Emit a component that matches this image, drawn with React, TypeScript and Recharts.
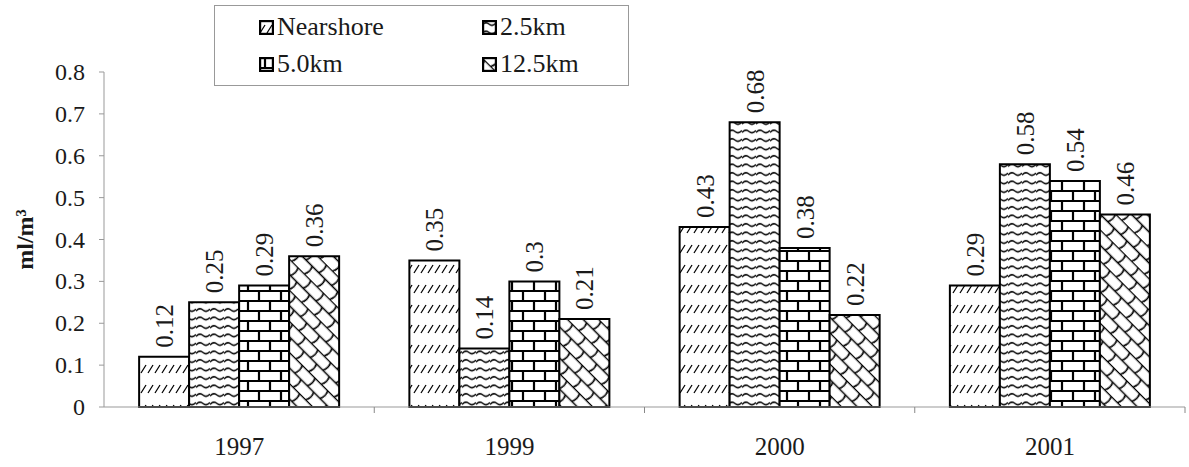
import { BarChart, Bar, XAxis, YAxis, LabelList, Label, Legend } from 'recharts'

const years = ['1997', '1999', '2000', '2001']
const nearshore = [0.12, 0.35, 0.43, 0.29]
const km25 = [0.25, 0.14, 0.68, 0.58]
const km50 = [0.29, 0.3, 0.38, 0.54]
const km125 = [0.36, 0.21, 0.22, 0.46]
const yTicks = [0, 0.1, 0.2, 0.3, 0.4, 0.5, 0.6, 0.7, 0.8]

const series = [
  { key: 'Nearshore', values: nearshore, pattern: 'url(#pNear)' },
  { key: '2.5km', values: km25, pattern: 'url(#pWave)' },
  { key: '5.0km', values: km50, pattern: 'url(#pBrick)' },
  { key: '12.5km', values: km125, pattern: 'url(#pShingle)' },
]

const data = years.map((year, i) => {
  const row: Record<string, string | number> = { year }
  series.forEach((s) => {
    row[s.key] = s.values[i]
  })
  return row
})

const font = "'Liberation Serif', 'Times New Roman', serif"
const ink = '#1a1a1a'

function ValueLabel(props: any) {
  const { x, y, width, value } = props
  const cx = x + width / 2 + 9
  const cy = y - 9
  return (
    <text
      x={cx}
      y={cy}
      transform={`rotate(-90 ${cx} ${cy})`}
      textAnchor="start"
      style={{ fontFamily: font, fontSize: 25, fill: ink }}
    >
      {value}
    </text>
  )
}

function YearTick(props: any) {
  const { x, y, width, payload } = props
  const band = width / years.length
  return (
    <g>
      <line x1={x + band / 2} y1={y} x2={x + band / 2} y2={y + 6} stroke="#888" />
      <text x={x} y={y + 48} textAnchor="middle" style={{ fontFamily: font, fontSize: 25, fill: ink }}>
        {payload.value}
      </text>
    </g>
  )
}

function ValueTick(props: any) {
  const { x, y, payload } = props
  return (
    <text x={x} y={y + 8} textAnchor="end" style={{ fontFamily: font, fontSize: 24, fill: ink }}>
      {payload.value}
    </text>
  )
}

function LegendBox() {
  return (
    <div
      style={{
        position: 'absolute',
        left: 214,
        top: 5,
        width: 415,
        height: 81,
        border: '1px solid #999',
        boxSizing: 'border-box',
        fontFamily: font,
        fontSize: 26,
        color: ink,
      }}
    >
      {series.map((s, i) => (
        <div
          key={s.key}
          style={{
            position: 'absolute',
            left: i % 2 === 0 ? 44 : 267,
            top: i < 2 ? 7 : 44,
            display: 'flex',
            alignItems: 'center',
            lineHeight: '28px',
            fontFamily: font,
            fontSize: 26,
          }}
        >
          <svg width={15} height={15} style={{ marginRight: 3 }}>
            <rect x={1} y={1} width={13} height={13} fill={s.pattern} stroke="#000" strokeWidth={2.4} />
          </svg>
          {s.key}
        </div>
      ))}
    </div>
  )
}

export default function App() {
  return (
    <div
      style={{
        position: 'absolute',
        left: 0,
        top: 0,
        width: 1189,
        height: 467,
        background: '#fff',
        fontFamily: font,
      }}
    >
      <BarChart
        width={1189}
        height={467}
        data={data}
        margin={{ top: 72, right: 4, left: 0, bottom: 0 }}
        barCategoryGap="13%"
        barGap={0}
      >
        <defs>
          <pattern id="pNear" width="7" height="20" patternUnits="userSpaceOnUse">
            <rect width="7" height="20" fill="#fff" />
            <line x1="1" y1="13" x2="6" y2="5" stroke="#000" strokeWidth="1.3" />
          </pattern>
          <pattern id="pWave" width="14" height="8.5" patternUnits="userSpaceOnUse">
            <rect width="14" height="8.5" fill="#fff" />
            <path d="M0,5 Q3.5,1 7,4 Q10.5,7 14,3" fill="none" stroke="#000" strokeWidth="1.5" />
          </pattern>
          <pattern id="pBrick" width="22" height="20" patternUnits="userSpaceOnUse">
            <rect width="22" height="20" fill="#fff" />
            <path
              d="M0,1 H22 M0,11 H22 M6,1 V11 M17,11 V20"
              fill="none"
              stroke="#000"
              strokeWidth="2.2"
            />
          </pattern>
          <pattern
            id="pShingle"
            width="18"
            height="22"
            patternUnits="userSpaceOnUse"
            patternTransform="rotate(45)"
          >
            <rect width="18" height="22" fill="#fff" />
            <path
              d="M0,0.5 H18 M0,11.5 H18 M4,0.5 Q7,6 4,11.5 M13,11.5 Q16,17 13,22"
              fill="none"
              stroke="#000"
              strokeWidth="1.6"
            />
          </pattern>
        </defs>
        <XAxis
          dataKey="year"
          height={60}
          stroke="#999"
          tickLine={false}
          tickSize={0}
          tickMargin={0}
          tick={<YearTick />}
          interval={0}
        />
        <YAxis
          width={104}
          domain={[0, 0.8]}
          ticks={yTicks}
          interval={0}
          stroke="#999"
          tickSize={5}
          tickMargin={14}
          tick={<ValueTick />}
        >
          <Label
            value="ml/m³"
            angle={-90}
            position="insideLeft"
            offset={24}
            style={{ fontFamily: font, fontSize: 24, fontWeight: 'bold', fill: ink, textAnchor: 'middle' }}
          />
        </YAxis>
        <Legend content={() => <LegendBox />} wrapperStyle={{ left: 0, top: 0, width: 1189, height: 0 }} />
        {series.map((s) => (
          <Bar
            key={s.key}
            dataKey={s.key}
            fill={s.pattern}
            stroke="#000"
            strokeWidth={2}
            isAnimationActive={false}
          >
            <LabelList dataKey={s.key} content={<ValueLabel />} />
          </Bar>
        ))}
      </BarChart>
    </div>
  )
}
